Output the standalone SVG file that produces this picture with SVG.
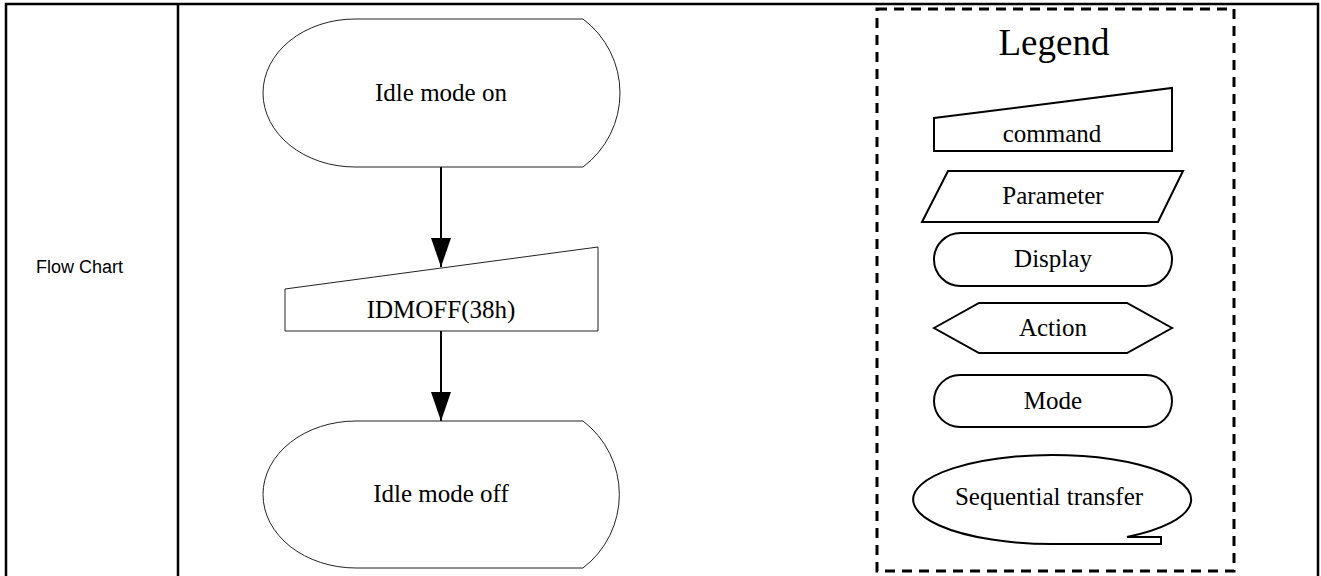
<svg xmlns="http://www.w3.org/2000/svg" width="1321" height="576" viewBox="0 0 1321 576">
  <style>
    .tbl { stroke: #000; stroke-width: 2.5; fill: none; }
    .fc { fill: #fff; stroke: #222; stroke-width: 1; }
    .lg { fill: #fff; stroke: #000; stroke-width: 2; }
    .t { font-family: "Liberation Serif", "Times New Roman", serif; font-size: 25px; fill: #000; text-anchor: middle; }
    .conn { stroke: #000; stroke-width: 2; fill: none; }
  </style>
  <defs>
    <marker id="ah" viewBox="0 0 29 20" markerWidth="29" markerHeight="20" refX="29" refY="10" orient="auto" markerUnits="userSpaceOnUse">
      <path d="M0,0 L29,10 L0,20 Z" fill="#000"/>
    </marker>
  </defs>
  <rect width="1321" height="576" fill="#fff"/>
  <g id="table">
    <path class="tbl" d="M6,580 L6,4 L1318,4 L1318,580 M178,4 L178,580"/>
    <text x="36" y="273" font-family="Liberation Sans, Arial, sans-serif" font-size="18" fill="#000">Flow Chart</text>
  </g>
  <g id="connectors">
    <line class="conn" x1="441" y1="167" x2="441" y2="267" marker-end="url(#ah)"/>
    <line class="conn" x1="441" y1="331" x2="441" y2="421" marker-end="url(#ah)"/>
  </g>
  <g id="idle-on">
    <path class="fc" d="M355,19 L583,19 A92.5,92.5 0 0 1 583,167 L355,167 A92,74 0 0 1 355,19 Z"/>
    <text class="t" x="441" y="101">Idle mode on</text>
  </g>
  <g id="idmoff">
    <path class="fc" d="M285,289 L598,247 L598,331 L285,331 Z"/>
    <text class="t" x="441" y="318">IDMOFF(38h)</text>
  </g>
  <g id="idle-off">
    <path class="fc" d="M356,421 L583,421 A92.5,92.5 0 0 1 583,568 L356,568 A93,73.5 0 0 1 356,421 Z"/>
    <text class="t" x="441" y="502">Idle mode off</text>
  </g>
  <g id="legend">
    <rect x="877" y="9" width="357" height="562" fill="none" stroke="#000" stroke-width="3" stroke-dasharray="10,7"/>
    <text class="t" x="1054" y="55" style="font-size:37px">Legend</text>
  </g>
  <g id="legend-command">
    <path class="lg" d="M934,118 L1172,88 L1172,151 L934,151 Z"/>
    <text class="t" x="1052" y="142">command</text>
  </g>
  <g id="legend-parameter">
    <path class="lg" d="M948,171 L1183,171 L1158,222 L922,222 Z"/>
    <text class="t" x="1053" y="204">Parameter</text>
  </g>
  <g id="legend-display">
    <rect class="lg" x="934" y="233" width="238" height="53" rx="26.5" ry="26.5"/>
    <text class="t" x="1053" y="267">Display</text>
  </g>
  <g id="legend-action">
    <path class="lg" d="M934,328 L979,303 L1127,303 L1172,328 L1127,353 L979,353 Z"/>
    <text class="t" x="1053" y="336">Action</text>
  </g>
  <g id="legend-mode">
    <rect class="lg" x="934" y="375" width="238" height="52" rx="26" ry="26"/>
    <text class="t" x="1053" y="409">Mode</text>
  </g>
  <g id="legend-sequential">
    <path class="lg" d="M1052,544 A139,44.5 0 1 1 1127,537 L1161,537 L1161,544 Z"/>
    <text class="t" x="1049" y="505">Sequential transfer</text>
  </g>
</svg>
